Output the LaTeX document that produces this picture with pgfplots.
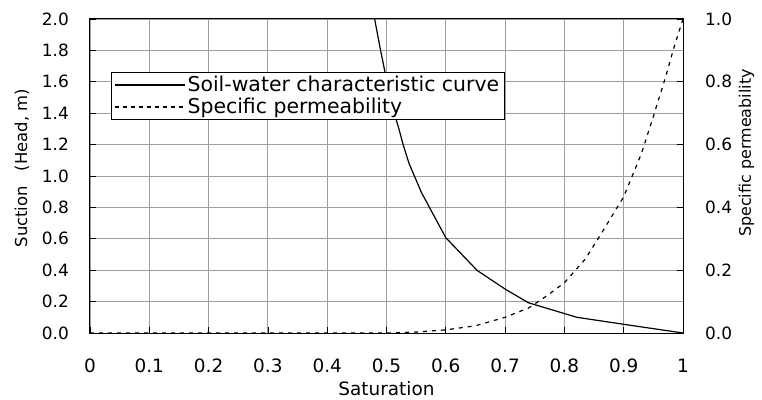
\documentclass[border=0pt]{standalone}
\usepackage{fontspec}
\setmainfont{DejaVu Sans}
\usepackage{pgfplots}
\pgfplotsset{compat=1.18}
\begin{document}
\begin{tikzpicture}
\pgfplotsset{
  common/.style={
    scale only axis, width=593bp, height=314bp,
    xmin=0, xmax=1,
    tick align=inside, major tick length=6bp,
    every tick/.style={black, line width=0.8bp},
    axis line style={black, line width=1bp},
  }
}
\begin{axis}[common,
  ymin=0, ymax=2,
  xtick={0,0.1,0.2,0.3,0.4,0.5,0.6,0.7,0.8,0.9,1},
  xticklabels={0,0.1,0.2,0.3,0.4,0.5,0.6,0.7,0.8,0.9,1},
  ytick={0,0.2,0.4,0.6,0.8,1.0,1.2,1.4,1.6,1.8,2.0},
  yticklabels={0.0,0.2,0.4,0.6,0.8,1.0,1.2,1.4,1.6,1.8,2.0},
  xtick pos=bottom, ytick pos=left,
  grid=major,
  major grid style={color=black!38, line width=0.9bp},
  xticklabel style={font=\fontsize{18.5}{20}\selectfont, anchor=north, inner sep=0pt, yshift=-26bp},
  yticklabel style={font=\fontsize{17}{20}\selectfont, anchor=east, inner sep=0pt, xshift=-21bp},
  xlabel={Saturation},
  xlabel style={font=\fontsize{18.5}{22}\selectfont, at={(axis description cs:0.5,0)}, anchor=north, inner sep=0pt, yshift=-48bp},
  ylabel={Suction\hspace{0.9em}(Head, m)},
  ylabel style={font=\fontsize{16.5}{20}\selectfont, at={(axis description cs:-0.1147,0.525)}, anchor=center, inner sep=0pt},
  legend style={at={(axis description cs:0.0354,0.831)}, anchor=north west,
    draw=black, line width=0.8bp, fill=white, font=\fontsize{20.5}{24}\selectfont,
    inner xsep=3bp, inner ysep=2bp, row sep=1bp,
    cells={anchor=west}},
  legend image code/.code={\draw[#1, line width=1.2bp] (0bp,0bp) -- (70bp,0bp);},
]
\addplot[black, line width=1.2bp] coordinates {
(0.480,2.00) (0.489,1.82) (0.497,1.67) (0.505,1.52) (0.513,1.40) (0.521,1.30)
(0.528,1.20) (0.538,1.08) (0.559,0.894) (0.600,0.607) (0.653,0.398)
(0.700,0.280) (0.739,0.193) (0.821,0.100) (0.908,0.051) (1.000,0.000)
};
\addlegendentry{Soil-water characteristic curve}
\addlegendimage{black, line width=1.2bp, dash pattern=on 4bp off 4bp}
\addlegendentry{Specific permeability}
\end{axis}
\begin{axis}[common,
  ymin=0, ymax=1,
  axis y line*=right, axis x line=none,
  ytick={0,0.2,0.4,0.6,0.8,1.0},
  yticklabels={0.0,0.2,0.4,0.6,0.8,1.0},
  yticklabel style={font=\fontsize{17}{20}\selectfont, anchor=west, inner sep=0pt, xshift=22bp},
  ylabel={Specific permeability},
  ylabel style={font=\fontsize{16}{20}\selectfont, at={(axis description cs:1.1071,0.573)}, anchor=center, inner sep=0pt},
]
\addplot[black, line width=1.2bp, dash pattern=on 4bp off 5bp] coordinates {
(0,0) (0.1,0) (0.2,0) (0.3,0) (0.4,0) (0.5,0) (0.55,0.003) (0.6,0.010) (0.65,0.023)
(0.70,0.050) (0.74,0.080) (0.77,0.118) (0.80,0.160) (0.835,0.235) (0.86,0.310)
(0.90,0.434) (0.93,0.572) (0.95,0.690) (0.97,0.811) (0.985,0.911) (1.0,1.0)
};
\end{axis}
\pgfresetboundingbox
\path[use as bounding box] (-90bp,-67bp) rectangle (672bp,333bp);
\end{tikzpicture}
\end{document}
